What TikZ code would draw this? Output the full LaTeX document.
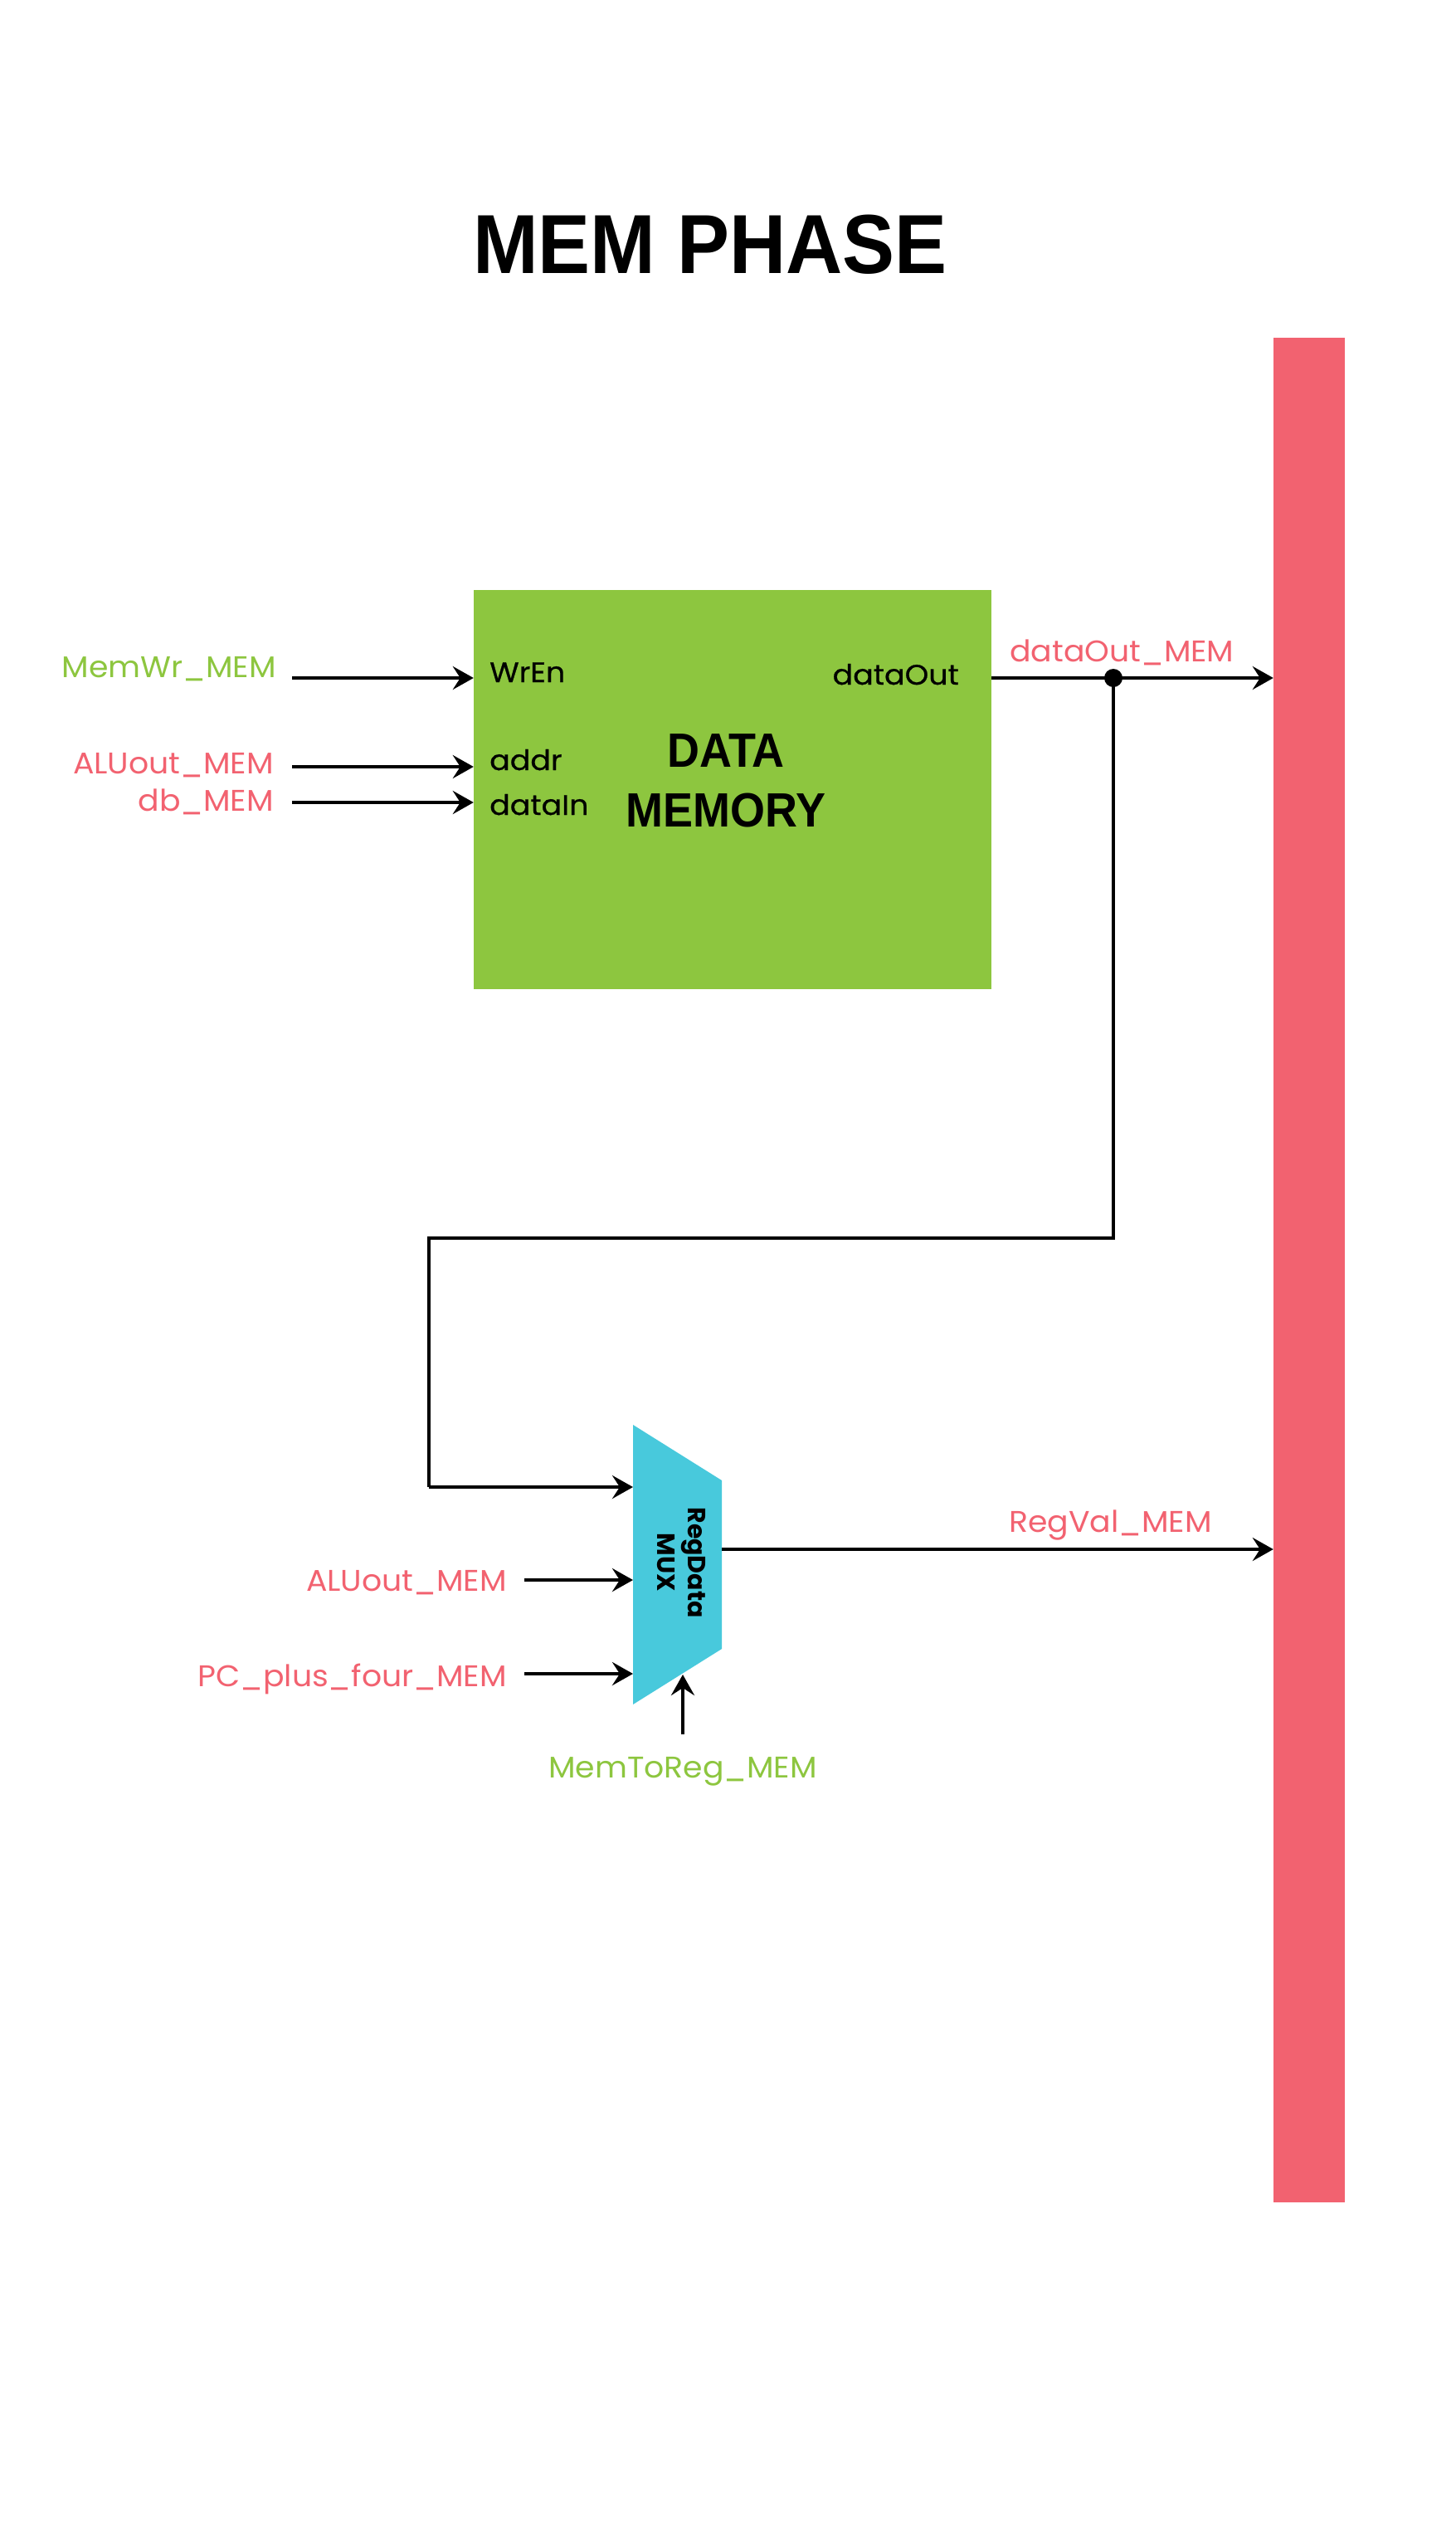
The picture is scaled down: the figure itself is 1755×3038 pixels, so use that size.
\documentclass[tikz,border=0pt]{standalone}
\usepackage{fontspec}
\setmainfont{Poppins}
\newfontfamily\headfont{Liberation Sans}
\newfontfamily\lblfont{Poppins}
\newfontfamily\portfont[FakeBold=0.6]{Poppins}
\usetikzlibrary{arrows.meta}
\definecolor{memgreen}{HTML}{8DC63F}
\definecolor{barred}{HTML}{F26270}
\definecolor{muxcyan}{HTML}{48C9DC}
\tikzset{
  lbl/.style={inner sep=0pt, xscale=1.05, font=\lblfont\fontsize{36}{40}\selectfont},
  redlbl/.style={lbl, text=barred},
  greenlbl/.style={lbl, text=memgreen},
  portlbl/.style={inner sep=0pt, xscale=1.07, font=\portfont\fontsize{34}{38}\selectfont, text=black},
  wire/.style={line width=4pt, draw=black},
  arr/.style={wire, -{Stealth[length=25pt,width=28pt,inset=9pt]}},
}
\begin{document}
\begin{tikzpicture}[x=1pt,y=-1pt]
\useasboundingbox (0,0) rectangle (1755,3038);
\fill[white] (0,0) rectangle (1755,3038);

% title
\node[inner sep=0pt, anchor=base, font=\headfont\bfseries\fontsize{101}{110}\selectfont] (title) at (856,329) {\scalebox{0.935}[1]{MEM PHASE}};

% pipeline register bar
\node[fill=barred, inner sep=0pt, minimum width=86pt, minimum height=2247pt] (bar) at (1578,1530.5) {};

% data memory
\node[fill=memgreen, inner sep=0pt, minimum width=624pt, minimum height=481pt] (mem) at (883,951.5) {};
\node[inner sep=0pt, anchor=base, font=\headfont\bfseries\fontsize{58}{64}\selectfont] (memt1) at (875,924.5) {\scalebox{0.93}[1]{DATA}};
\node[inner sep=0pt, anchor=base, font=\headfont\bfseries\fontsize{58}{64}\selectfont] (memt2) at (875,996) {\scalebox{0.93}[1]{MEMORY}};

\node[portlbl, anchor=base west] (pwren) at (590,822) {WrEn};
\node[portlbl, anchor=base west] (paddr) at (590,928) {addr};
\node[portlbl, anchor=base west] (pdin) at (590,982) {dataIn};
\node[portlbl, anchor=base east] (pdout) at (1156,825) {dataOut};

% memory inputs
\node[greenlbl, anchor=base east] (lmemwr) at (333,816) {MemWr\_MEM};
\node[redlbl, anchor=base east] (laluout) at (330,932) {ALUout\_MEM};
\node[redlbl, anchor=base east] (ldb) at (330,977) {db\_MEM};
\coordinate (smemwr) at (352,817);
\coordinate (saluout) at (352,924);
\coordinate (sdb) at (352,967);
\draw[arr] (smemwr) -- (smemwr -| mem.west);
\draw[arr] (saluout) -- (saluout -| mem.west);
\draw[arr] (sdb) -- (sdb -| mem.west);

% data out
\coordinate (dout) at (mem.east |- 0,817);
\coordinate (jn) at (1342,817);
\draw[arr] (dout) -- (dout -| bar.west);
\fill (jn) circle (11pt);
\node[redlbl, anchor=base west] (ldout) at (1217,797) {dataOut\_MEM};

% mux
\coordinate (mTL) at (763,1717);
\coordinate (mTR) at (870,1784);
\coordinate (mBR) at (870,1987);
\coordinate (mBL) at (763,2054);
\fill[muxcyan] (mTL) -- (mTR) -- (mBR) -- (mBL) -- cycle;
\node[inner sep=0pt, rotate=-90, align=center, font=\lblfont\bfseries\fontsize{30}{37}\selectfont] (muxt) at (821,1883) {RegData\\MUX};

% feedback
\coordinate (fb1) at (1342,1492);
\coordinate (fb2) at (517,1492);
\coordinate (fb3) at (517,1792);
\coordinate (min1) at (763,1792);
\draw[wire] (jn) -- (fb1) -- (fb2) -- (fb3);
\draw[arr] (fb3) -- (min1);

% mux inputs
\node[redlbl, anchor=base east] (laluout2) at (611,1917) {ALUout\_MEM};
\node[redlbl, anchor=base east] (lpc) at (611,2032) {PC\_plus\_four\_MEM};
\coordinate (salu2) at (632,1904);
\coordinate (min2) at (763,1904);
\coordinate (spc) at (632,2017);
\coordinate (min3) at (763,2017);
\draw[arr] (salu2) -- (min2);
\draw[arr] (spc) -- (min3);

% select
\coordinate (ssel) at (823,2090);
\coordinate (msel) at (823,2018);
\draw[arr] (ssel) -- (msel);
\node[greenlbl, anchor=base] (lsel) at (823,2142) {MemToReg\_MEM};

% output
\coordinate (mout) at (870,1867);
\draw[arr] (mout) -- (mout -| bar.west);
\node[redlbl, anchor=base west] (lregval) at (1216,1846) {RegVal\_MEM};
\end{tikzpicture}
\end{document}
